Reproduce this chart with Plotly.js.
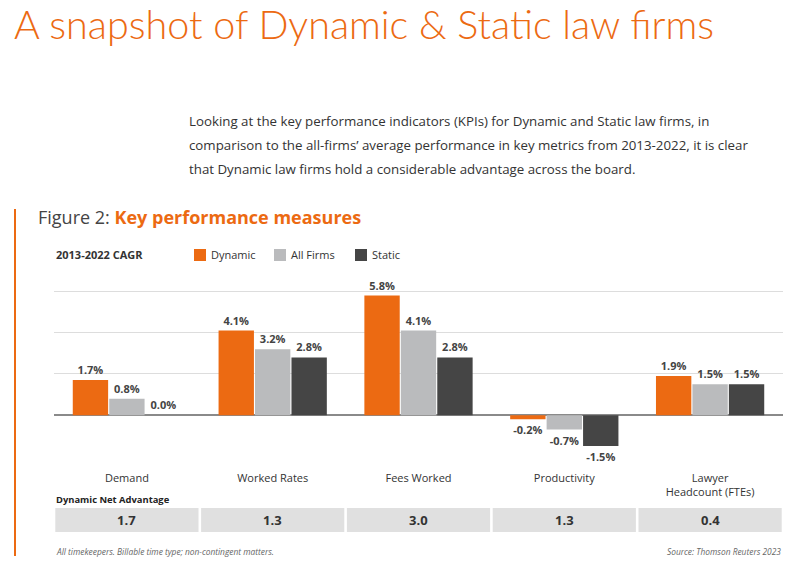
<!DOCTYPE html>
<html>
<head>
<meta charset="utf-8">
<script src="https://cdn.plot.ly/plotly-3.0.1.min.js"></script>
<style>html,body{margin:0;padding:0;background:#fff;}#chart{width:797px;height:567px;}</style>
</head>
<body>
<div id="chart"></div>
<script>
// ---- data ----
var categories = ["Demand", "Worked Rates", "Fees Worked", "Productivity", "Lawyer<br>Headcount (FTEs)"];
var dynamicVals = [1.7, 4.1, 5.8, -0.2, 1.9];
var allFirmsVals = [0.8, 3.2, 4.1, -0.7, 1.5];
var staticVals = [0.0, 2.8, 2.8, -1.5, 1.5];
var netAdvantage = ["1.7", "1.3", "3.0", "1.3", "0.4"];
var seriesNames = ["Dynamic", "All Firms", "Static"];
var seriesColors = ["#EC6A12", "#BABBBD", "#454545"];
var introLines = [
  "Looking at the key performance indicators (KPIs) for Dynamic and Static law firms, in",
  "comparison to the all-firms\u2019 average performance in key metrics from 2013-2022, it is clear",
  "that Dynamic law firms hold a considerable advantage across the board."
];

// ---- layout geometry (pixels) ----
var W = 797, H = 567;
var M = {l: 54, r: 14, t: 279, b: 110};
var PW = W - M.l - M.r, PH = H - M.t - M.b;
function px(x) { return (x - M.l) / PW; }
function py(y) { return (H - M.b - y) / PH; }

var FONT = "Open Sans, Noto Sans, sans-serif";
var vals = [dynamicVals, allFirmsVals, staticVals];

var traces = seriesNames.map(function (name, i) {
  return {
    type: "bar",
    name: name,
    x: categories,
    y: vals[i],
    marker: {color: seriesColors[i]},
    texttemplate: "%{y:.1f}%",
    textposition: "outside",
    constraintext: "none",
    cliponaxis: false,
    textfont: {family: FONT, size: 11, color: "#444", weight: 700},
    hoverinfo: "x+y"
  };
});

var shapes = [
  {type: "line", xref: "paper", yref: "paper", x0: px(15), x1: px(15), y0: py(556), y1: py(209),
   line: {color: "#EC6A12", width: 2}}
];
var annotations = [
  {xref: "paper", yref: "paper", x: px(36), y: py(217), xanchor: "left", yanchor: "middle", showarrow: false,
   text: "Figure 2: <span style='color:#EC6A12'><b>Key performance measures</b></span>",
   font: {family: FONT, size: 18, color: "#444"}},
  {xref: "paper", yref: "paper", x: px(54), y: py(255), xanchor: "left", yanchor: "middle", showarrow: false,
   text: "<b>2013-2022 CAGR</b>", font: {family: FONT, size: 11, color: "#333"}},
  {xref: "paper", yref: "paper", x: px(54), y: py(499), xanchor: "left", yanchor: "middle", showarrow: false,
   text: "<b>Dynamic Net Advantage</b>", font: {family: FONT, size: 9.4, color: "#222"}},
  {xref: "paper", yref: "paper", x: px(54), y: py(551), xanchor: "left", yanchor: "middle", showarrow: false,
   text: "<i>All timekeepers. Billable time type; non-contingent matters.</i>", font: {family: FONT, size: 8.4, color: "#666"}},
  {xref: "paper", yref: "paper", x: 1, y: py(551), xanchor: "right", yanchor: "middle", showarrow: false,
   text: "<i>Source: Thomson Reuters 2023</i>", font: {family: FONT, size: 8.4, color: "#666"}}
];
introLines.forEach(function (line, i) {
  annotations.push({xref: "paper", yref: "paper", x: px(187), y: py(121 + 24 * i), xanchor: "left", yanchor: "middle",
    showarrow: false, text: line, font: {family: FONT, size: 13.3, color: "#333"}});
});
// legend (keys drawn from the series arrays)
var legendX = [194, 274, 355];
seriesNames.forEach(function (name, i) {
  shapes.push({type: "rect", xref: "paper", yref: "paper", x0: px(legendX[i]), x1: px(legendX[i] + 12),
    y0: py(261), y1: py(249), fillcolor: seriesColors[i], line: {width: 0}});
  annotations.push({xref: "paper", yref: "paper", x: px(legendX[i] + 15), y: py(255), xanchor: "left", yanchor: "middle",
    showarrow: false, text: name, font: {family: FONT, size: 11, color: "#333"}});
});
var n = categories.length;
netAdvantage.forEach(function (v, i) {
  shapes.push({type: "rect", xref: "paper", yref: "paper", x0: i / n + 1.3 / PW, x1: (i + 1) / n - 1.3 / PW,
    y0: py(532), y1: py(508), fillcolor: "#E0E0E0", line: {width: 0}, layer: "below"});
  annotations.push({xref: "paper", yref: "paper", x: (i + 0.5) / n, y: py(520), xanchor: "center", yanchor: "middle",
    showarrow: false, text: "<b>" + v + "</b>", font: {family: FONT, size: 13, color: "#333"}});
});

var layout = {
  width: W, height: H,
  margin: M,
  paper_bgcolor: "#fff", plot_bgcolor: "#fff",
  font: {family: FONT, color: "#333"},
  title: {text: "A snapshot of Dynamic &amp; Static law firms", xref: "container", yref: "container",
    x: 14 / W, xanchor: "left", y: 1 - 25 / H, yanchor: "middle",
    font: {family: "Lato, Open Sans, sans-serif", size: 39.5, color: "#EC6A12", weight: 300}},
  barmode: "group", bargap: 0.25, bargroupgap: 0.03,
  xaxis: {type: "category", showgrid: false, zeroline: false, showline: false, ticks: "",
    tickfont: {family: FONT, size: 11, color: "#333"}, ticklabelstandoff: 13, fixedrange: true},
  yaxis: {range: [-2.03, 6.6], dtick: 2, tick0: 0, showticklabels: false, ticks: "",
    showgrid: true, gridcolor: "#DDDDDD", gridwidth: 1,
    zeroline: true, zerolinecolor: "#8A8A8A", zerolinewidth: 1.5, fixedrange: true},
  showlegend: false,
  shapes: shapes,
  annotations: annotations
};

Plotly.newPlot("chart", traces, layout, {displayModeBar: false, staticPlot: true});
</script>
</body>
</html>
